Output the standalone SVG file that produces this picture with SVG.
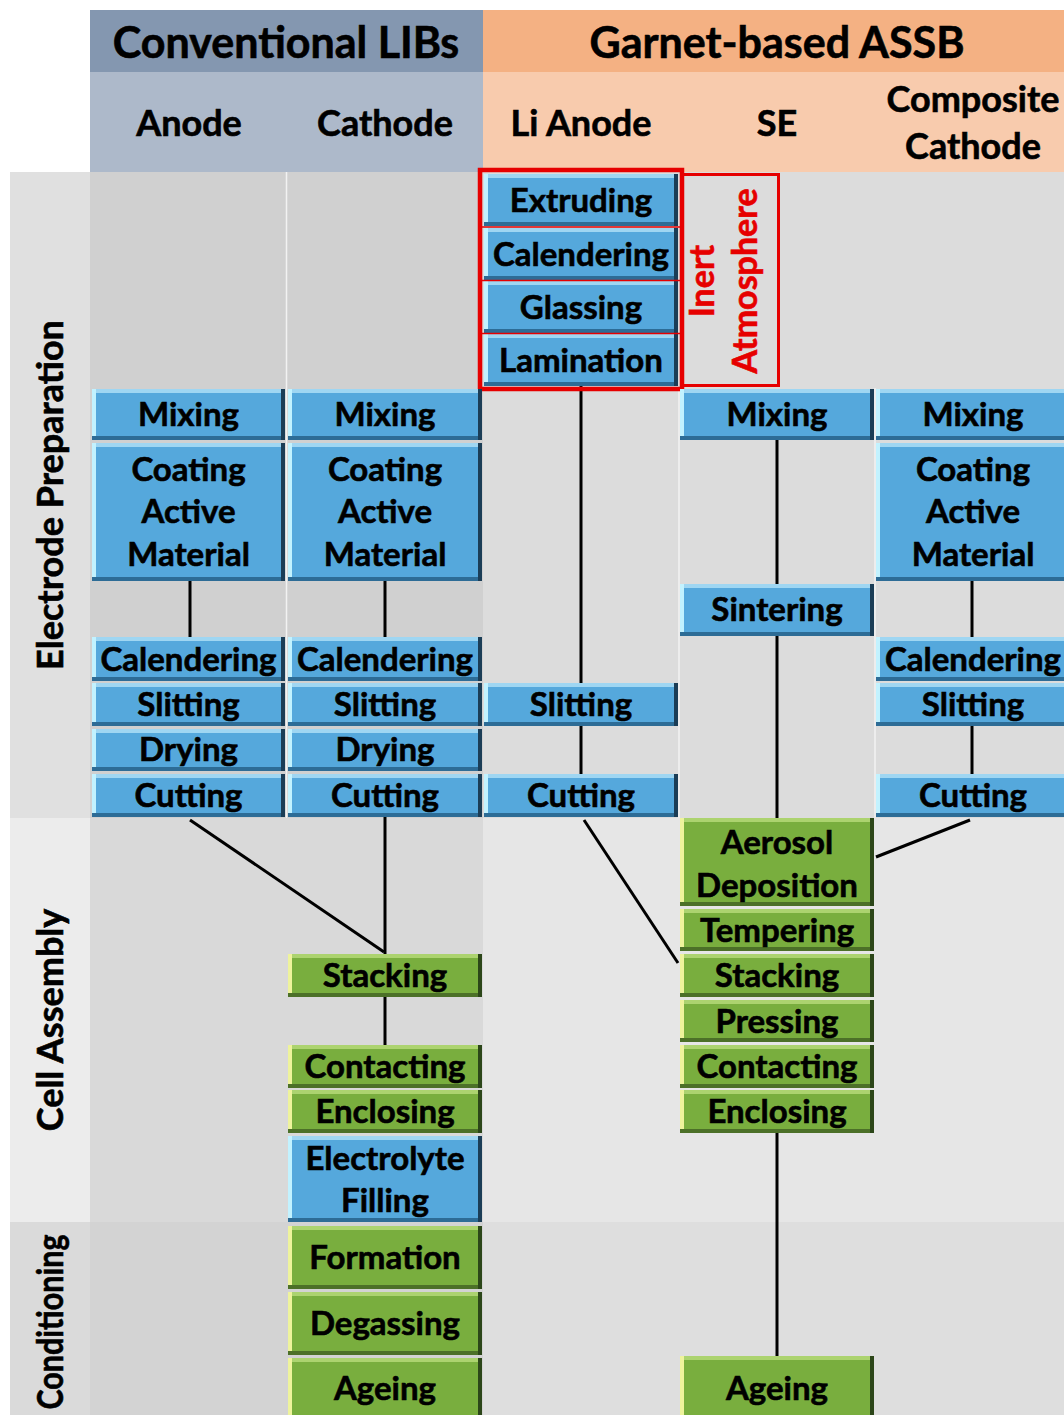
<svg xmlns="http://www.w3.org/2000/svg" width="1064" height="1415" viewBox="0 0 1064 1415">
<style>
text{font-family:Lato,"Liberation Sans",sans-serif;font-weight:bold;fill:#000;text-anchor:middle;stroke:#000;stroke-width:0.6}
.lbl{font-size:33px}
.hd1{font-size:43px}
.hd2{font-size:36px}
.row{font-size:36px}
.red{fill:#e60000;stroke:#e60000;font-size:34px}
.conn path{stroke:#000;stroke-width:3;fill:none}
.bx path{fill:none;stroke-width:4}
.b rect{fill:#55a8dc}
.b .t{stroke:#9fd6f2}
.b .l{stroke:#c2f2ff}
.b .bt{stroke:#2d6c96}
.b .r{stroke:#1b3d56}
.g rect{fill:#79ae3e}
.g .t{stroke:#acd36f}
.g .l{stroke:#eef39c}
.g .bt{stroke:#4c7028}
.g .r{stroke:#2c4619}
</style>
<rect width="1064" height="1415" fill="#fff"/>
<g id="background">
<rect x="90" y="10" width="393" height="62" fill="#8497b0"/>
<rect x="483" y="10" width="581" height="62" fill="#f4b183"/>
<rect x="90" y="72" width="393" height="100" fill="#adb9ca"/>
<rect x="483" y="72" width="581" height="100" fill="#f8cbad"/>
<rect x="10" y="172" width="80" height="646" fill="#e0e0e0"/>
<rect x="10" y="818" width="80" height="404" fill="#ececec"/>
<rect x="10" y="1222" width="80" height="193" fill="#dadada"/>
<rect x="90" y="172" width="393" height="646" fill="#d0d0d0"/>
<rect x="90" y="818" width="393" height="404" fill="#d9d9d9"/>
<rect x="90" y="1222" width="393" height="193" fill="#d3d3d3"/>
<rect x="483" y="172" width="581" height="646" fill="#dcdcdc"/>
<rect x="483" y="818" width="581" height="404" fill="#e6e6e6"/>
<rect x="483" y="1222" width="581" height="193" fill="#dedede"/>
<path d="M286.5 172V818M875 388V818M679 388V818" stroke="#f2f2f2" stroke-width="1.5"/>
</g>
<g id="headers">
<text class="hd1" x="286" y="58">Conventional LIBs</text>
<text class="hd1" x="777" y="58">Garnet-based ASSB</text>
<text class="hd2" x="189" y="136">Anode</text>
<text class="hd2" x="385" y="136">Cathode</text>
<text class="hd2" x="581" y="136">Li Anode</text>
<text class="hd2" x="777" y="136">SE</text>
<text class="hd2" x="973" y="112">Composite</text>
<text class="hd2" x="973" y="159">Cathode</text>
<text class="row" transform="translate(50,495) rotate(-90)" y="13">Electrode Preparation</text>
<text class="row" transform="translate(50,1020) rotate(-90)" y="13">Cell Assembly</text>
<text class="row" transform="translate(50,1322) rotate(-90)" y="13" textLength="175" lengthAdjust="spacingAndGlyphs">Conditioning</text>
</g>
<g class="conn" id="connectors">
<path d="M581 386V683"/>
<path d="M581 726V774"/>
<path d="M777 440V584"/>
<path d="M777 636V818"/>
<path d="M190 581V637"/>
<path d="M385 581V637"/>
<path d="M972 581V637"/>
<path d="M972 726V774"/>
<path d="M190 820L384 952"/>
<path d="M385 817V954"/>
<path d="M385 997V1045"/>
<path d="M584 820L678 963"/>
<path d="M970 820L876 857"/>
<path d="M777 1133V1356"/>
</g>
<g id="nodes">
<!-- Li anode -->
<g id="li-extruding" class="bx b"><rect x="484" y="174" width="194" height="52"/><path class="t" d="M484 176H678"/><path class="l" d="M486 174V226"/><path class="bt" d="M484 224H678"/><path class="r" d="M676 174V226"/><text class="lbl" x="581" y="212">Extruding</text></g>
<g id="li-calendering" class="bx b"><rect x="484" y="228" width="194" height="52"/><path class="t" d="M484 230H678"/><path class="l" d="M486 228V280"/><path class="bt" d="M484 278H678"/><path class="r" d="M676 228V280"/><text class="lbl" x="581" y="266">Calendering</text></g>
<g id="li-glassing" class="bx b"><rect x="484" y="281" width="194" height="52"/><path class="t" d="M484 283H678"/><path class="l" d="M486 281V333"/><path class="bt" d="M484 331H678"/><path class="r" d="M676 281V333"/><text class="lbl" x="581" y="319">Glassing</text></g>
<g id="li-lamination" class="bx b"><rect x="484" y="334" width="194" height="52"/><path class="t" d="M484 336H678"/><path class="l" d="M486 334V386"/><path class="bt" d="M484 384H678"/><path class="r" d="M676 334V386"/><text class="lbl" x="581" y="372">Lamination</text></g>
<g id="inert-atmosphere">
<path d="M482 227H680M482 280.5H680M482 333.5H680" stroke="#e60000" stroke-width="1.5"/>
<rect x="480" y="170" width="202" height="219" fill="none" stroke="#e60000" stroke-width="4.5"/>
<rect x="682" y="174.5" width="96.5" height="211" fill="none" stroke="#e60000" stroke-width="3"/>
<text class="red" transform="translate(702,281) rotate(-90)" y="12">Inert</text>
<text class="red" transform="translate(745,281) rotate(-90)" y="12">Atmosphere</text>
</g>
<!-- Mixing row -->
<g id="a-mixing" class="bx b"><rect x="92" y="389" width="193" height="51"/><path class="t" d="M92 391H285"/><path class="l" d="M94 389V440"/><path class="bt" d="M92 438H285"/><path class="r" d="M283 389V440"/><text class="lbl" x="188.5" y="426">Mixing</text></g>
<g id="c-mixing" class="bx b"><rect x="288" y="389" width="194" height="51"/><path class="t" d="M288 391H482"/><path class="l" d="M290 389V440"/><path class="bt" d="M288 438H482"/><path class="r" d="M480 389V440"/><text class="lbl" x="385" y="426">Mixing</text></g>
<g id="s-mixing" class="bx b"><rect x="680" y="389" width="194" height="51"/><path class="t" d="M680 391H874"/><path class="l" d="M682 389V440"/><path class="bt" d="M680 438H874"/><path class="r" d="M872 389V440"/><text class="lbl" x="777" y="426">Mixing</text></g>
<g id="p-mixing" class="bx b"><rect x="876" y="389" width="194" height="51"/><path class="t" d="M876 391H1070"/><path class="l" d="M878 389V440"/><path class="bt" d="M876 438H1070"/><path class="r" d="M1068 389V440"/><text class="lbl" x="973" y="426">Mixing</text></g>
<!-- Coating -->
<g id="a-coating" class="bx b"><rect x="92" y="443" width="193" height="138"/><path class="t" d="M92 445H285"/><path class="l" d="M94 443V581"/><path class="bt" d="M92 579H285"/><path class="r" d="M283 443V581"/><text class="lbl" x="188.5" y="481">Coating</text><text class="lbl" x="188.5" y="523">Active</text><text class="lbl" x="188.5" y="566">Material</text></g>
<g id="c-coating" class="bx b"><rect x="288" y="443" width="194" height="138"/><path class="t" d="M288 445H482"/><path class="l" d="M290 443V581"/><path class="bt" d="M288 579H482"/><path class="r" d="M480 443V581"/><text class="lbl" x="385" y="481">Coating</text><text class="lbl" x="385" y="523">Active</text><text class="lbl" x="385" y="566">Material</text></g>
<g id="p-coating" class="bx b"><rect x="876" y="443" width="194" height="138"/><path class="t" d="M876 445H1070"/><path class="l" d="M878 443V581"/><path class="bt" d="M876 579H1070"/><path class="r" d="M1068 443V581"/><text class="lbl" x="973" y="481">Coating</text><text class="lbl" x="973" y="523">Active</text><text class="lbl" x="973" y="566">Material</text></g>
<!-- Sintering -->
<g id="s-sintering" class="bx b"><rect x="680" y="584" width="194" height="52"/><path class="t" d="M680 586H874"/><path class="l" d="M682 584V636"/><path class="bt" d="M680 634H874"/><path class="r" d="M872 584V636"/><text class="lbl" x="777" y="621">Sintering</text></g>
<!-- Calendering -->
<g id="a-calendering" class="bx b"><rect x="92" y="637" width="193" height="44"/><path class="t" d="M92 639H285"/><path class="l" d="M94 637V681"/><path class="bt" d="M92 679H285"/><path class="r" d="M283 637V681"/><text class="lbl" x="188.5" y="671">Calendering</text></g>
<g id="c-calendering" class="bx b"><rect x="288" y="637" width="194" height="44"/><path class="t" d="M288 639H482"/><path class="l" d="M290 637V681"/><path class="bt" d="M288 679H482"/><path class="r" d="M480 637V681"/><text class="lbl" x="385" y="671">Calendering</text></g>
<g id="p-calendering" class="bx b"><rect x="876" y="637" width="194" height="44"/><path class="t" d="M876 639H1070"/><path class="l" d="M878 637V681"/><path class="bt" d="M876 679H1070"/><path class="r" d="M1068 637V681"/><text class="lbl" x="973" y="671">Calendering</text></g>
<!-- Slitting -->
<g id="a-slitting" class="bx b"><rect x="92" y="683" width="193" height="43"/><path class="t" d="M92 685H285"/><path class="l" d="M94 683V726"/><path class="bt" d="M92 724H285"/><path class="r" d="M283 683V726"/><text class="lbl" x="188.5" y="716">Slitting</text></g>
<g id="c-slitting" class="bx b"><rect x="288" y="683" width="194" height="43"/><path class="t" d="M288 685H482"/><path class="l" d="M290 683V726"/><path class="bt" d="M288 724H482"/><path class="r" d="M480 683V726"/><text class="lbl" x="385" y="716">Slitting</text></g>
<g id="li-slitting" class="bx b"><rect x="484" y="683" width="194" height="43"/><path class="t" d="M484 685H678"/><path class="l" d="M486 683V726"/><path class="bt" d="M484 724H678"/><path class="r" d="M676 683V726"/><text class="lbl" x="581" y="716">Slitting</text></g>
<g id="p-slitting" class="bx b"><rect x="876" y="683" width="194" height="43"/><path class="t" d="M876 685H1070"/><path class="l" d="M878 683V726"/><path class="bt" d="M876 724H1070"/><path class="r" d="M1068 683V726"/><text class="lbl" x="973" y="716">Slitting</text></g>
<!-- Drying -->
<g id="a-drying" class="bx b"><rect x="92" y="729" width="193" height="42"/><path class="t" d="M92 731H285"/><path class="l" d="M94 729V771"/><path class="bt" d="M92 769H285"/><path class="r" d="M283 729V771"/><text class="lbl" x="188.5" y="761">Drying</text></g>
<g id="c-drying" class="bx b"><rect x="288" y="729" width="194" height="42"/><path class="t" d="M288 731H482"/><path class="l" d="M290 729V771"/><path class="bt" d="M288 769H482"/><path class="r" d="M480 729V771"/><text class="lbl" x="385" y="761">Drying</text></g>
<!-- Cutting -->
<g id="a-cutting" class="bx b"><rect x="92" y="774" width="193" height="43"/><path class="t" d="M92 776H285"/><path class="l" d="M94 774V817"/><path class="bt" d="M92 815H285"/><path class="r" d="M283 774V817"/><text class="lbl" x="188.5" y="807">Cutting</text></g>
<g id="c-cutting" class="bx b"><rect x="288" y="774" width="194" height="43"/><path class="t" d="M288 776H482"/><path class="l" d="M290 774V817"/><path class="bt" d="M288 815H482"/><path class="r" d="M480 774V817"/><text class="lbl" x="385" y="807">Cutting</text></g>
<g id="li-cutting" class="bx b"><rect x="484" y="774" width="194" height="43"/><path class="t" d="M484 776H678"/><path class="l" d="M486 774V817"/><path class="bt" d="M484 815H678"/><path class="r" d="M676 774V817"/><text class="lbl" x="581" y="807">Cutting</text></g>
<g id="p-cutting" class="bx b"><rect x="876" y="774" width="194" height="43"/><path class="t" d="M876 776H1070"/><path class="l" d="M878 774V817"/><path class="bt" d="M876 815H1070"/><path class="r" d="M1068 774V817"/><text class="lbl" x="973" y="807">Cutting</text></g>
<!-- Cell assembly, SE column -->
<g id="s-aerosol" class="bx g"><rect x="680" y="818" width="194" height="88"/><path class="t" d="M680 820H874"/><path class="l" d="M682 818V906"/><path class="bt" d="M680 904H874"/><path class="r" d="M872 818V906"/><text class="lbl" x="777" y="854">Aerosol</text><text class="lbl" x="777" y="897">Deposition</text></g>
<g id="s-tempering" class="bx g"><rect x="680" y="909" width="194" height="42"/><path class="t" d="M680 911H874"/><path class="l" d="M682 909V951"/><path class="bt" d="M680 949H874"/><path class="r" d="M872 909V951"/><text class="lbl" x="777" y="942">Tempering</text></g>
<g id="s-stacking" class="bx g"><rect x="680" y="954" width="194" height="43"/><path class="t" d="M680 956H874"/><path class="l" d="M682 954V997"/><path class="bt" d="M680 995H874"/><path class="r" d="M872 954V997"/><text class="lbl" x="777" y="987">Stacking</text></g>
<g id="s-pressing" class="bx g"><rect x="680" y="1000" width="194" height="42"/><path class="t" d="M680 1002H874"/><path class="l" d="M682 1000V1042"/><path class="bt" d="M680 1040H874"/><path class="r" d="M872 1000V1042"/><text class="lbl" x="777" y="1033">Pressing</text></g>
<g id="s-contacting" class="bx g"><rect x="680" y="1045" width="194" height="43"/><path class="t" d="M680 1047H874"/><path class="l" d="M682 1045V1088"/><path class="bt" d="M680 1086H874"/><path class="r" d="M872 1045V1088"/><text class="lbl" x="777" y="1078">Contacting</text></g>
<g id="s-enclosing" class="bx g"><rect x="680" y="1090" width="194" height="43"/><path class="t" d="M680 1092H874"/><path class="l" d="M682 1090V1133"/><path class="bt" d="M680 1131H874"/><path class="r" d="M872 1090V1133"/><text class="lbl" x="777" y="1123">Enclosing</text></g>
<g id="s-ageing" class="bx g"><rect x="680" y="1356" width="194" height="64"/><path class="t" d="M680 1358H874"/><path class="l" d="M682 1356V1420"/><path class="r" d="M872 1356V1420"/><text class="lbl" x="777" y="1400">Ageing</text></g>
<!-- Cell assembly, conventional -->
<g id="c-stacking" class="bx g"><rect x="288" y="954" width="194" height="43"/><path class="t" d="M288 956H482"/><path class="l" d="M290 954V997"/><path class="bt" d="M288 995H482"/><path class="r" d="M480 954V997"/><text class="lbl" x="385" y="987">Stacking</text></g>
<g id="c-contacting" class="bx g"><rect x="288" y="1045" width="194" height="43"/><path class="t" d="M288 1047H482"/><path class="l" d="M290 1045V1088"/><path class="bt" d="M288 1086H482"/><path class="r" d="M480 1045V1088"/><text class="lbl" x="385" y="1078">Contacting</text></g>
<g id="c-enclosing" class="bx g"><rect x="288" y="1090" width="194" height="43"/><path class="t" d="M288 1092H482"/><path class="l" d="M290 1090V1133"/><path class="bt" d="M288 1131H482"/><path class="r" d="M480 1090V1133"/><text class="lbl" x="385" y="1123">Enclosing</text></g>
<g id="c-electrolyte" class="bx b"><rect x="288" y="1136" width="194" height="86"/><path class="t" d="M288 1138H482"/><path class="l" d="M290 1136V1222"/><path class="bt" d="M288 1220H482"/><path class="r" d="M480 1136V1222"/><text class="lbl" x="385" y="1170">Electrolyte</text><text class="lbl" x="385" y="1212">Filling</text></g>
<g id="c-formation" class="bx g"><rect x="288" y="1226" width="194" height="63"/><path class="t" d="M288 1228H482"/><path class="l" d="M290 1226V1289"/><path class="bt" d="M288 1287H482"/><path class="r" d="M480 1226V1289"/><text class="lbl" x="385" y="1269">Formation</text></g>
<g id="c-degassing" class="bx g"><rect x="288" y="1292" width="194" height="63"/><path class="t" d="M288 1294H482"/><path class="l" d="M290 1292V1355"/><path class="bt" d="M288 1353H482"/><path class="r" d="M480 1292V1355"/><text class="lbl" x="385" y="1335">Degassing</text></g>
<g id="c-ageing" class="bx g"><rect x="288" y="1358" width="194" height="62"/><path class="t" d="M288 1360H482"/><path class="l" d="M290 1358V1420"/><path class="r" d="M480 1358V1420"/><text class="lbl" x="385" y="1400">Ageing</text></g>
</g>
</svg>
